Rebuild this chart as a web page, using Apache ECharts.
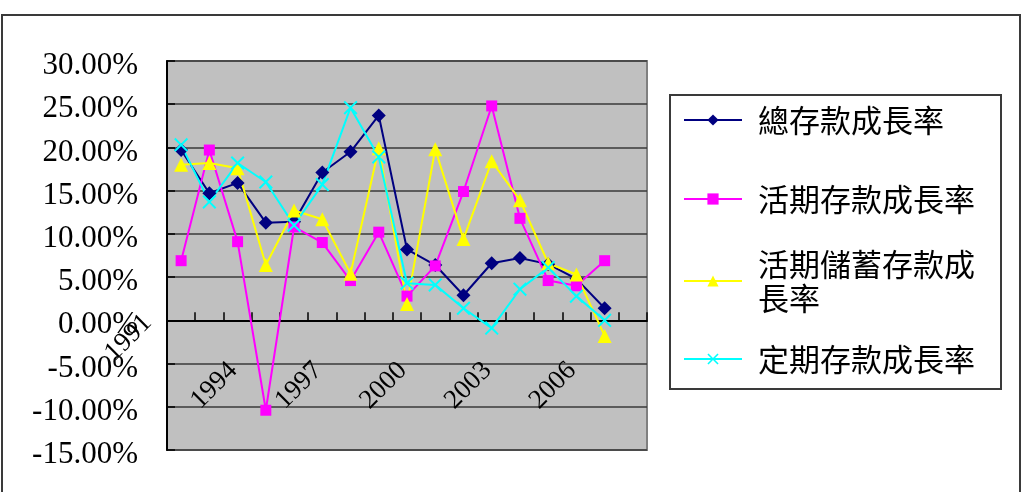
<!DOCTYPE html>
<html>
<head>
<meta charset="utf-8">
<script src="https://cdn.jsdelivr.net/npm/echarts@6/dist/echarts.min.js"></script>
<style>
html,body{margin:0;padding:0;background:#fff;}
#chart{width:1023px;height:492px;}
</style>
</head>
<body>
<div id="chart"></div>
<script>
const years = ['1991','1992','1993','1994','1995','1996','1997','1998','1999','2000','2001','2002','2003','2004','2005','2006','2007'];
const seriesNames = ['總存款成長率','活期存款成長率','活期儲蓄存款成長率','定期存款成長率'];
const totalGrowth   = [19.7,14.7,15.9,11.3,11.4,17.1,19.5,23.7,8.2,6.4,2.9,6.6,7.2,6.5,4.8,1.4];
const demandGrowth  = [6.9,19.7,9.1,-10.4,10.8,9.0,4.6,10.2,2.8,6.3,14.9,24.8,11.8,4.6,4.0,6.9];
const savingsGrowth = [18.0,18.2,17.6,6.4,12.7,11.7,5.4,19.9,1.9,19.8,9.4,18.4,13.9,6.6,5.3,-1.8];
const timeGrowth    = [20.3,13.7,18.2,16.0,11.0,15.7,24.6,18.9,4.3,4.1,1.4,-0.9,3.6,6.1,2.8,0.0];
const labelEvery = 3;

const colors = ['#000080','#FF00FF','#FFFF00','#00FFFF'];
const serif = 'Liberation Serif';
const cjk = '"Noto Sans CJK TC"';
const xSymbol = 'path://M0,1L1,0L5,4L9,0L10,1L6,5L10,9L9,10L5,6L1,10L0,9L4,5Z';

const chart = echarts.init(document.getElementById('chart'), null, {renderer:'canvas'});

const catData = years.map((y, i) => i === 0
  ? {value: y, textStyle: {padding: [0, 13, 0, 0], lineHeight: 69}}
  : y);

function mkLegend(name, top, extraText) {
  return {
    data: [{name: name, textStyle: extraText || {}}],
    orient: 'vertical',
    left: 683,
    top: top,
    padding: 0,
    itemWidth: 58,
    itemHeight: 14,
    selectedMode: false,
    textStyle: {fontFamily: cjk, fontSize: 31, lineHeight: 34, color: '#000', padding: [0,0,0,11]}
  };
}

const option = {
  animation: false,
  backgroundColor: '#fff',
  color: colors,
  grid: {
    left: 167, right: 376, top: 61, bottom: 42,
    containLabel: false, outerBoundsMode: 'none',
    show: true, backgroundColor: '#C0C0C0', borderColor: '#808080', borderWidth: 2
  },
  xAxis: {
    type: 'category',
    data: catData,
    boundaryGap: true,
    axisLine: {onZero: true, lineStyle: {color: '#000', width: 2}},
    axisTick: {show: true, inside: true, length: 8, interval: 0, lineStyle: {color: '#000', width: 1.5}},
    axisLabel: {
      interval: 0, rotate: 45, margin: -116,
      hideOverlap: false,
      fontFamily: serif, fontSize: 27, color: '#000',
      padding: [0, 46, 0, 0],
      formatter: (v, i) => i % labelEvery !== 0 ? '' : (i === 0 ? v + '\n' : v)
    },
    splitLine: {show: false}
  },
  yAxis: {
    type: 'value',
    min: -15, max: 30, interval: 5,
    axisLine: {show: true, lineStyle: {color: '#000', width: 2}},
    axisTick: {show: true, inside: true, length: 8, lineStyle: {color: '#000', width: 1.5}},
    axisLabel: {
      margin: 29, fontFamily: serif, fontSize: 31, color: '#000',
      verticalAlign: 'top', lineHeight: 10,
      formatter: v => v.toFixed(2) + '%'
    },
    splitLine: {show: true, lineStyle: {color: '#3a3a3a', width: 1.5}}
  },
  legend: [
    mkLegend(seriesNames[0], 103),
    mkLegend(seriesNames[1], 182),
    mkLegend(seriesNames[2], 230, {width: 232, overflow: 'break', padding: [34,0,0,11]}),
    mkLegend(seriesNames[3], 342)
  ],
  graphic: [
    {type: 'rect', shape: {x: 2, y: 15, width: 1018, height: 500},
     style: {fill: 'transparent', stroke: '#3a3a3a', lineWidth: 2}, silent: true},
    {type: 'rect', shape: {x: 670, y: 95, width: 331, height: 294},
     style: {fill: 'transparent', stroke: '#3a3a3a', lineWidth: 2}, silent: true}
  ],
  series: [
    {name: seriesNames[0], type: 'line', data: totalGrowth, symbol: 'diamond', symbolSize: 14,
     lineStyle: {width: 2, color: colors[0]}, itemStyle: {color: colors[0]}},
    {name: seriesNames[1], type: 'line', data: demandGrowth, symbol: 'rect', symbolSize: 11,
     lineStyle: {width: 2, color: colors[1]}, itemStyle: {color: colors[1]}},
    {name: seriesNames[2], type: 'line', data: savingsGrowth, symbol: 'triangle', symbolSize: 14,
     lineStyle: {width: 2, color: colors[2]}, itemStyle: {color: colors[2]}},
    {name: seriesNames[3], type: 'line', data: timeGrowth, symbol: xSymbol, symbolSize: 14,
     lineStyle: {width: 2, color: colors[3]}, itemStyle: {color: colors[3]}}
  ]
};
chart.setOption(option);
</script>
</body>
</html>
